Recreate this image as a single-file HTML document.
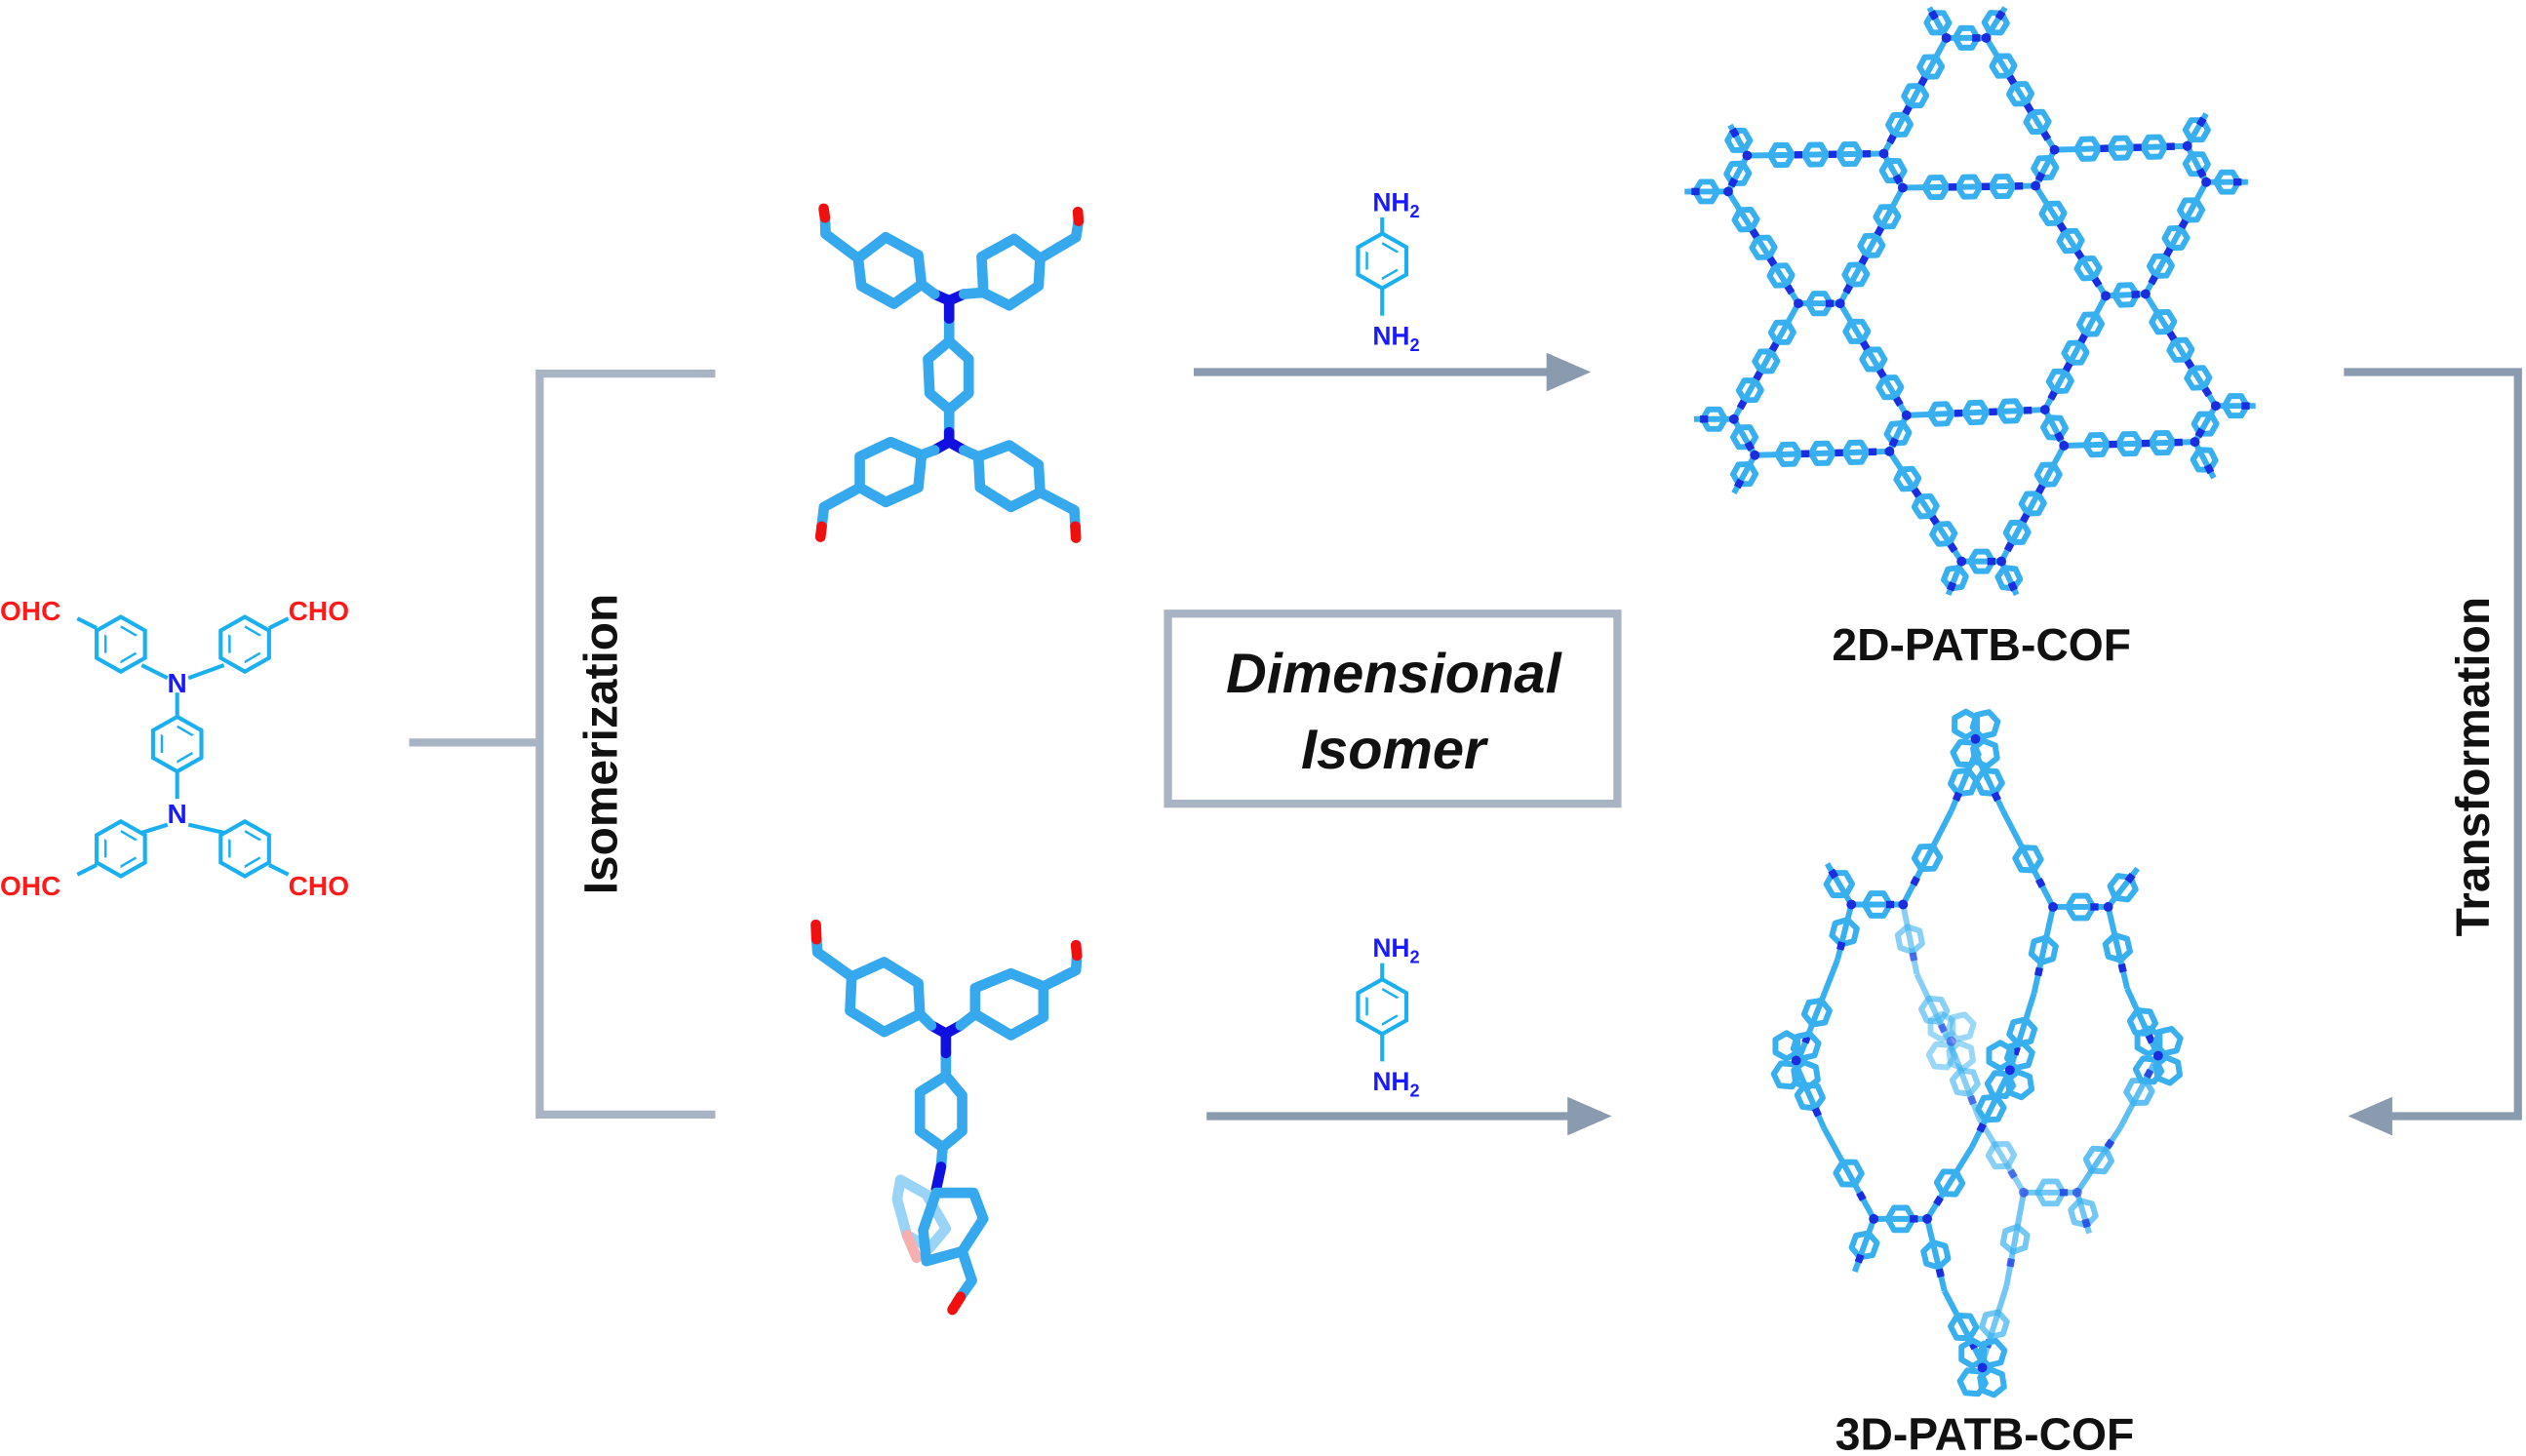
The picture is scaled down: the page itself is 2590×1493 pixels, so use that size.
<!DOCTYPE html>
<html><head><meta charset="utf-8"><style>
html,body{margin:0;padding:0;background:#fff;}
svg{display:block;}
text{font-family:"Liberation Sans",Arial,sans-serif;font-weight:bold;}
</style></head><body>
<svg id="sv" width="2590" height="1493" viewBox="0 0 1568 904" preserveAspectRatio="none" xmlns="http://www.w3.org/2000/svg">
<defs>
<g id="hs"><polygon points="0,-17 15,-8.5 15,8.5 0,17 -15,8.5 -15,-8.5" fill="none" stroke="#1ab0f0" stroke-width="2.5"/><polygon points="0,-11 9.5,-5.5 9.5,5.5 0,11 -9.5,5.5 -9.5,-5.5" fill="none" stroke="#1ab0f0" stroke-width="1.5" stroke-dasharray="11,11"/></g>
<marker id="ar" markerWidth="6" markerHeight="6" refX="3" refY="3" orient="auto" markerUnits="strokeWidth"><path d="M0,0.6 L5.5,3 L0,5.4 Z" fill="#8a9bb0"/></marker>
</defs>
<rect x="0" y="0" width="1568" height="904" fill="#fff"/>
<g stroke="#a8b3c3" stroke-width="5" fill="none">
<line x1="254" y1="461" x2="335" y2="461"/>
<polyline points="444,232 335,232 335,692 444,692"/>
<rect x="725" y="381" width="279" height="118"/>
</g>
<text transform="translate(383,462) rotate(-90)" font-size="29" text-anchor="middle" fill="#111">Isomerization</text>
<text x="865" y="430" font-size="35" font-style="italic" text-anchor="middle" fill="#111">Dimensional</text>
<text x="865" y="477" font-size="35" font-style="italic" text-anchor="middle" fill="#111">Isomer</text>
<g stroke="#8a9bb0" stroke-width="5" fill="none">
<line x1="741" y1="231" x2="975" y2="231" marker-end="url(#ar)"/>
<line x1="749" y1="693" x2="988" y2="693" marker-end="url(#ar)"/>
<polyline points="1455,231 1563,231 1563,693 1470,693" marker-end="url(#ar)"/>
</g>
<text transform="translate(1545,476) rotate(-90)" font-size="29" text-anchor="middle" fill="#111">Transformation</text>
<text x="1230" y="410" font-size="28" text-anchor="middle" fill="#111">2D-PATB-COF</text>
<text x="1232" y="900" font-size="28" text-anchor="middle" fill="#111">3D-PATB-COF</text>
<g font-size="16">
<text x="852" y="131" fill="#1a1aff">NH<tspan font-size="11" dy="4">2</tspan></text>
<text x="852" y="214" fill="#1a1aff">NH<tspan font-size="11" dy="4">2</tspan></text>
<text x="852" y="594" fill="#1a1aff">NH<tspan font-size="11" dy="4">2</tspan></text>
<text x="852" y="677" fill="#1a1aff">NH<tspan font-size="11" dy="4">2</tspan></text>
</g>
<use href="#hs" x="858" y="162"/><use href="#hs" x="858" y="625"/>
<g stroke="#1ab0f0" stroke-width="2.5"><line x1="858" y1="135" x2="858" y2="145"/><line x1="858" y1="179" x2="858" y2="196"/><line x1="858" y1="598" x2="858" y2="608"/><line x1="858" y1="642" x2="858" y2="659"/></g>
<use href="#hs" x="75" y="400"/><use href="#hs" x="152" y="400"/><use href="#hs" x="110" y="462"/><use href="#hs" x="75" y="527"/><use href="#hs" x="152" y="527"/>
<g stroke="#1ab0f0" stroke-width="2.5">
<line x1="88" y1="413" x2="104" y2="421"/><line x1="139" y1="413" x2="117" y2="421"/><line x1="110" y1="430" x2="110" y2="445"/>
<line x1="110" y1="479" x2="110" y2="496"/><line x1="104" y1="512" x2="88" y2="517"/><line x1="117" y1="512" x2="139" y2="517"/>
<line x1="60" y1="390" x2="48" y2="384"/><line x1="167" y1="390" x2="179" y2="384"/><line x1="60" y1="537" x2="48" y2="543"/><line x1="167" y1="537" x2="179" y2="543"/>
</g>
<text x="110" y="430" font-size="17" text-anchor="middle" fill="#1a1aff">N</text>
<text x="110" y="511" font-size="17" text-anchor="middle" fill="#1a1aff">N</text>
<g font-size="17" fill="#ff1a1a"><text x="0" y="385">OHC</text><text x="179" y="385">CHO</text><text x="0" y="556">OHC</text><text x="179" y="556">CHO</text></g>

<g transform="translate(490.3,115) scale(0.2018)" fill="none" stroke="#35a8ee" stroke-width="32" stroke-linejoin="round" stroke-linecap="round">
<polygon points="210,225 295,160 395,215 405,305 320,365 220,310"/>
<polygon points="590,220 690,165 770,225 765,310 675,370 595,330"/>
<polygon points="490,480 550,535 550,640 490,690 430,640 425,535"/>
<polygon points="405,830 310,790 215,835 215,930 295,975 395,930"/>
<polygon points="580,835 675,800 765,860 770,945 680,990 585,930"/>
<polyline points="210,225 110,150 108,100"/><polyline points="770,225 880,160 888,110"/>
<polyline points="215,930 105,990 98,1050"/><polyline points="770,945 875,1000 878,1050"/>
<line x1="490" y1="410" x2="490" y2="480"/><line x1="490" y1="690" x2="490" y2="760"/>
<g stroke="#1010e0"><polyline points="445,335 490,355 535,335"/><line x1="490" y1="355" x2="490" y2="410"/><polyline points="445,815 490,790 535,815"/><line x1="490" y1="790" x2="490" y2="760"/></g>
<polyline points="405,305 445,335"/><polyline points="595,330 535,335"/><polyline points="405,830 445,815"/><polyline points="580,835 535,815"/>
<g stroke="#f01010"><line x1="104" y1="72" x2="108" y2="100"/><line x1="886" y1="82" x2="888" y2="110"/><line x1="98" y1="1050" x2="94" y2="1082"/><line x1="878" y1="1050" x2="880" y2="1085"/></g>
</g>
<g transform="translate(490.3,563) scale(0.2018)" fill="none" stroke="#35a8ee" stroke-width="32" stroke-linejoin="round" stroke-linecap="round">
<g opacity="0.5"><polygon points="340,840 420,885 480,990 430,1050 360,1010 330,900"/><polyline points="360,1010 390,1080" stroke="#f06060"/></g>
<polygon points="190,215 290,170 395,235 400,330 290,385 185,320"/>
<polygon points="570,250 680,205 780,245 780,340 680,395 570,330"/>
<polygon points="480,520 530,580 530,690 470,740 400,690 400,570"/>
<polyline points="190,215 85,140 82,100"/><polyline points="780,245 880,195 883,150"/>
<line x1="480" y1="450" x2="480" y2="520"/><line x1="470" y1="740" x2="465" y2="800"/>
<g stroke="#1010e0"><polyline points="435,365 480,390 525,365"/><line x1="480" y1="390" x2="480" y2="450"/><line x1="465" y1="800" x2="450" y2="870"/></g>
<polyline points="400,330 435,365"/><polyline points="570,330 525,365"/>
<polygon points="450,880 565,880 595,960 530,1060 420,1090 410,995"/>
<polyline points="530,1060 560,1150 525,1200"/>
<g stroke="#f01010"><line x1="80" y1="55" x2="82" y2="100"/><line x1="880" y1="118" x2="883" y2="150"/><line x1="525" y1="1200" x2="500" y2="1240"/></g>
</g>
<g id="net"></g>
</svg>
<script>
(function(){
const NS='http://www.w3.org/2000/svg';
const g=document.getElementById('net');
function el(t,a){const e=document.createElementNS(NS,t);for(const k in a)e.setAttribute(k,a[k]);g.appendChild(e);return e;}
const C='#38b0f0', D='#1a2ee0';
function ring(x,y,ang,r,op){let p=[];for(let i=0;i<6;i++){const a=ang+i*Math.PI/3;p.push((x+r*Math.cos(a)).toFixed(1)+','+(y+r*Math.sin(a)).toFixed(1));}
 el('polygon',{points:p.join(' '),fill:'none',stroke:C,'stroke-width':3.6,'stroke-linejoin':'round',opacity:op});}
function seg(p,q,n,op,r){op=op||1;r=r||7;const ang=Math.atan2(q[1]-p[1],q[0]-p[0]);
 el('line',{x1:p[0],y1:p[1],x2:q[0],y2:q[1],stroke:C,'stroke-width':3.6,opacity:op});
 for(let k=1;k<=n;k++){const t=k/(n+1);ring(p[0]+(q[0]-p[0])*t,p[1]+(q[1]-p[1])*t,ang,r,op);}
 for(let k=0;k<n;k++){const t=(k+1.5)/(n+1);if(t>=1)continue;const x=p[0]+(q[0]-p[0])*t,y=p[1]+(q[1]-p[1])*t;
  el('line',{x1:x-2.5*Math.cos(ang),y1:y-2.5*Math.sin(ang),x2:x+2.5*Math.cos(ang),y2:y+2.5*Math.sin(ang),stroke:D,'stroke-width':4.5,opacity:op});}
}
function dot(p,op){el('circle',{cx:p[0],cy:p[1],r:3,fill:D,opacity:op||1});}
const T=(a)=>[1035.1+a[0]*0.2355,a[1]*0.2355];
const N={A1:[735,100],A2:[840,100],B1:[210,410],B2:[160,505],C1:[570,405],C2:[620,495],D1:[1020,395],D2:[970,490],E1:[1370,385],E2:[1420,480],
F1:[345,800],F2:[455,800],G1:[1155,780],G2:[1260,775],H1:[175,1105],H2:[230,1200],I1:[630,1095],I2:[585,1190],J1:[995,1080],J2:[1045,1175],K1:[1445,1070],K2:[1390,1165],L1:[775,1480],L2:[880,1480]};
const E=[['A1','C1'],['A2','D1'],['B1','C1'],['D1','E1'],['C2','D2'],['B2','F1'],['C2','F2'],['D2','G1'],['E2','G2'],['F1','H1'],['F2','I1'],['G1','J1'],['G2','K1'],['H2','I2'],['I1','J1'],['J2','K2'],['I2','L1'],['J2','L2']];
E.forEach(e=>seg(T(N[e[0]]),T(N[e[1]]),3));
['A','B','C','D','E','F','G','H','I','J','K','L'].forEach(k=>{seg(T(N[k+'1']),T(N[k+'2']),1);});
const S=[['A1',[690,20]],['A2',[890,20]],['B1',[165,330]],['B2',[45,505]],['E1',[1420,300]],['E2',[1530,480]],['H1',[70,1105]],['H2',[175,1300]],['K1',[1550,1070]],['K2',[1440,1260]],['L1',[740,1568]],['L2',[920,1568]]];
S.forEach(s=>seg(T(N[s[0]]),T(s[1]),1));
Object.keys(N).forEach(k=>dot(T(N[k])));
// 3D
const U=(a)=>[1078.6+a[0]*0.214,426+a[1]*0.298];
function path(pts,op){for(let i=0;i<pts.length-1;i++)seg(U(pts[i]),U(pts[i+1]),1,op,8);}
function cluster(c,op){const p=U(c);for(let i=0;i<4;i++){ring(p[0]+(i%2?6:-6),p[1]+(i<2?-9:9),Math.PI/2+i*0.3,8,op);} dot(p,op);}
path([[550,1110],[600,1260],[710,1410]],1);
path([[830,1055],[780,1250],[710,1410]],0.7);
path([[480,455],[520,600],[620,750]],0.6);
path([[620,750],[700,900],[830,1055]],0.6);
path([[985,1055],[1110,920],[1220,770]],0.8);
path([[830,1055],[985,1055]],0.7);
path([[690,140],[620,260],[480,455]],1);
path([[690,140],[770,260],[915,460]],1);
path([[330,455],[290,570],[170,790]],1);
path([[915,460],[860,640],[790,800]],1);
path([[1075,460],[1130,630],[1220,770]],1);
path([[170,790],[250,920],[395,1110]],1);
path([[790,800],[680,960],[550,1110]],1);
path([[330,455],[480,455]],1);
path([[915,460],[1075,460]],1);
path([[395,1110],[550,1110]],1);
path([[330,455],[260,370]],1);path([[1075,460],[1160,380]],1);
path([[395,1110],[340,1220]],1);path([[985,1055],[1020,1140]],0.7);
cluster([690,110],1);cluster([170,780],1);cluster([790,800],1);cluster([1220,770],1);cluster([710,1420],1);cluster([620,740],0.5);
[[330,455],[480,455],[915,460],[1075,460],[395,1110],[550,1110]].forEach(p=>dot(U(p)));
[[830,1055],[985,1055]].forEach(p=>dot(U(p),0.6));
})();
</script>
</body></html>
